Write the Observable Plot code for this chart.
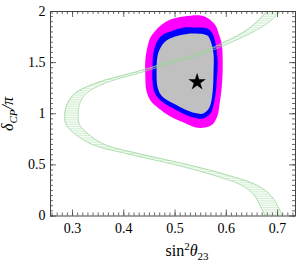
<!DOCTYPE html>
<html><head><meta charset="utf-8">
<script src="https://cdn.jsdelivr.net/npm/d3@7"></script>
<script src="https://cdn.jsdelivr.net/npm/@observablehq/plot@0.6"></script>
<style>body{margin:0;background:#fff}</style>
</head><body><div id="chart"></div>
<script>
// Green band (sin^2 theta23 edges as function of deltaCP/pi)
const bandDelta = [0,0.1,0.2,0.3,0.4,0.5,0.6,0.7,0.8,0.9,1.0,1.1,1.2,1.3,1.4,1.5,1.6,1.7,1.8,1.9,2.0];
const bandLeft  = [0.676,0.666,0.655,0.630,0.574,0.501,0.414,0.338,0.305,0.287,0.285,0.290,0.305,0.346,0.417,0.484,0.550,0.596,0.634,0.660,0.679];
const bandRight = [0.710,0.700,0.687,0.660,0.602,0.527,0.438,0.362,0.331,0.313,0.311,0.314,0.327,0.364,0.431,0.497,0.562,0.610,0.652,0.684,0.705];
// Outer (magenta) contour
const magentaX = [0.452,0.472,0.491,0.517,0.550,0.565,0.579,0.585,0.591,0.593,0.591,0.587,0.583,0.573,0.559,0.540,0.517,0.491,0.466,0.452,0.444,0.442,0.442,0.446];
const magentaY = [1.746,1.863,1.922,1.951,1.961,1.932,1.863,1.785,1.687,1.452,1.257,1.100,0.983,0.895,0.866,0.866,0.914,0.973,1.061,1.130,1.227,1.374,1.521,1.648];
// Middle (blue) contour
const blueX = [0.458,0.466,0.477,0.491,0.517,0.536,0.563,0.573,0.579,0.583,0.581,0.577,0.569,0.555,0.544,0.524,0.497,0.472,0.460,0.456,0.456];
const blueY = [1.599,1.716,1.775,1.804,1.843,1.843,1.834,1.785,1.687,1.521,1.296,1.130,1.002,0.954,0.954,0.983,1.051,1.130,1.208,1.325,1.472];
// Inner (gray) region
const grayX = [0.466,0.472,0.481,0.495,0.517,0.536,0.563,0.569,0.575,0.575,0.573,0.567,0.555,0.544,0.524,0.497,0.475,0.466,0.464];
const grayY = [1.570,1.648,1.707,1.746,1.775,1.785,1.765,1.716,1.589,1.394,1.198,1.061,1.002,1.002,1.032,1.100,1.169,1.257,1.423];
// Best fit
const starX = [0.543];
const starY = [1.31];
// Ticks
const xMajor = [0.3,0.4,0.5,0.6,0.7];
const yMajor = [0,0.5,1,1.5,2];
const yLabels = ["0","0.5","1","1.5","2"];
const xMinor = d3.range(26,74).map(v => v/100);
const yMinor = d3.range(0,41).map(v => v/20);

const W = 300, H = 264;
const mL = 50, mR = 5, mT = 11, mB = 48.5;
const pw = W - mL - mR, ph = H - mT - mB;

const pts = (xs, ys) => xs.map((x, i) => ({x, y: ys[i]}));
const band = bandDelta.map((d, i) => ({d, l: bandLeft[i], r: bandRight[i]}));
const tc = "#444";
const tickMarks = [];
for (const [vals, len] of [[xMinor, 3], [xMajor, 6]]) {
  tickMarks.push(Plot.tickX(vals, {x: d => d, stroke: tc, strokeWidth: 0.8, insetTop: ph - len}));
  tickMarks.push(Plot.tickX(vals, {x: d => d, stroke: tc, strokeWidth: 0.8, insetBottom: ph - len}));
}
for (const [vals, len] of [[yMinor, 3], [yMajor, 6]]) {
  tickMarks.push(Plot.tickY(vals, {y: d => d, stroke: tc, strokeWidth: 0.8, insetRight: pw - len}));
  tickMarks.push(Plot.tickY(vals, {y: d => d, stroke: tc, strokeWidth: 0.8, insetLeft: pw - len}));
}

const plot = Plot.plot({
  width: W, height: H,
  marginLeft: mL, marginRight: mR, marginTop: mT, marginBottom: mB,
  x: {domain: [0.257, 0.735]},
  y: {domain: [0, 2]},
  style: {fontFamily: "Liberation Serif", fontSize: "14px", color: "#000", background: "#fff"},
  marks: [
    Plot.line(pts(magentaX, magentaY), {x: "x", y: "y", curve: "catmull-rom-closed", fill: "#ff00ff", stroke: "none"}),
    Plot.line(pts(blueX, blueY), {x: "x", y: "y", curve: "catmull-rom-closed", fill: "#0000ff", stroke: "none"}),
    Plot.line(pts(grayX, grayY), {x: "x", y: "y", curve: "catmull-rom-closed", fill: "#c0c0c0", stroke: "none"}),
    Plot.areaX(band, {y: "d", x1: "l", x2: "r", curve: "catmull-rom", fill: "url(#hatch)"}),
    Plot.line(band, {x: "l", y: "d", curve: "catmull-rom", stroke: "#8fd08f", strokeWidth: 0.7}),
    Plot.line(band, {x: "r", y: "d", curve: "catmull-rom", stroke: "#8fd08f", strokeWidth: 0.7}),
    Plot.dot(pts(starX, starY), {x: "x", y: "y", symbol: "star", r: 5.5, fill: "#000", stroke: "none"}),
    ...tickMarks,
    Plot.frame({stroke: tc, strokeWidth: 1}),
    Plot.axisX(xMajor, {tickSize: 0, tickPadding: 7, label: null, fontSize: 14, tickFormat: d => String(d)}),
    Plot.axisY(yMajor, {tickSize: 0, tickPadding: 5, label: null, fontSize: 14, tickFormat: (d, i) => yLabels[yMajor.indexOf(d)]})
  ]
});

const svg = d3.select(plot);
svg.insert("defs", ":first-child").html(
  '<pattern id="hatch" width="4" height="1.8" patternUnits="userSpaceOnUse">' +
  '<line x1="0" y1="0.5" x2="4" y2="0.5" stroke="#b4e2b4" stroke-width="0.6"/></pattern>');

const xl = svg.append("text").attr("x", 187).attr("y", 256).attr("text-anchor", "middle")
  .attr("font-family", "Liberation Serif").attr("font-size", 16).attr("fill", "#000");
xl.append("tspan").text("sin");
xl.append("tspan").attr("dy", -6).attr("font-size", 11).text("2");
xl.append("tspan").attr("dy", 6).attr("font-style", "italic").text("θ");
xl.append("tspan").attr("dy", 3.5).attr("font-size", 11).text("23");

const yl = svg.append("text").attr("transform", "translate(13,114) rotate(-90)").attr("text-anchor", "middle")
  .attr("font-family", "Liberation Serif").attr("font-size", 16).attr("fill", "#000");
yl.append("tspan").attr("font-style", "italic").text("δ");
yl.append("tspan").attr("dy", 4).attr("font-size", 11).attr("font-style", "italic").text("CP");
yl.append("tspan").attr("dy", -4).attr("font-style", "italic").text("/π");

document.getElementById("chart").appendChild(plot);
</script>
</body></html>
